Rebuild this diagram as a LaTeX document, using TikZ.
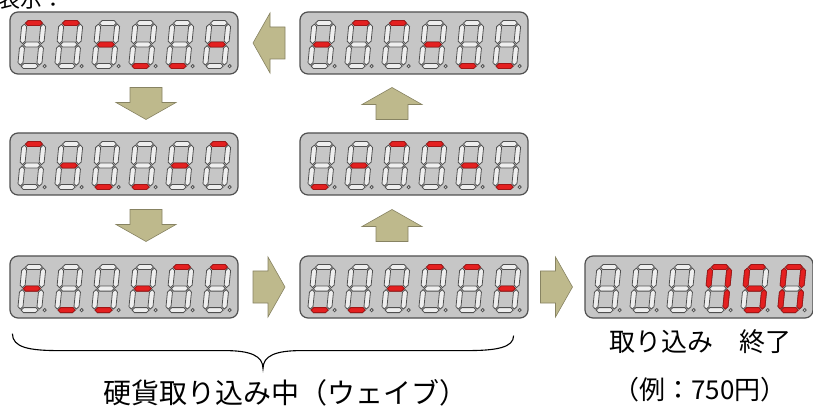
\documentclass[tikz,border=0pt]{standalone}
\usepackage{fontspec}
\usepackage{tikz}
\usetikzlibrary{
    calc,
    positioning
}
\newfontfamily\jpfont{Noto Sans CJK JP}
\definecolor{panelgray}{RGB}{198,198,198}
\definecolor{panelline}{RGB}{80,80,80}
\definecolor{segoffgray}{RGB}{238,238,238}
\definecolor{segred}{RGB}{228,32,32}
\definecolor{arrowkhaki}{RGB}{190,185,140}
\definecolor{arrowedge}{RGB}{135,131,98}

\newcommand\hseg[4]{\draw[#1] ({#2+1},#4) -- ({#2+3.5},{#4+2.5}) -- ({#3-3.5},{#4+2.5}) -- ({#3-1},#4) -- ({#3-3.5},{#4-2.5}) -- ({#2+3.5},{#4-2.5}) -- cycle;}
\newcommand\vseg[4]{\draw[#1] (#2,{#3+1}) -- ({#2+2.5},{#3+3.5}) -- ({#2+2.5},{#4-3.5}) -- (#2,{#4-1}) -- ({#2-2.5},{#4-3.5}) -- ({#2-2.5},{#3+3.5}) -- cycle;}
\newcommand\sega[1]{\hseg{#1}{2.5}{21.5}{45.5}}
\newcommand\segb[1]{\vseg{#1}{21.5}{24}{45.5}}
\newcommand\segc[1]{\vseg{#1}{21.5}{2.5}{24}}
\newcommand\segd[1]{\hseg{#1}{2.5}{21.5}{2.5}}
\newcommand\sege[1]{\vseg{#1}{2.5}{2.5}{24}}
\newcommand\segf[1]{\vseg{#1}{2.5}{24}{45.5}}
\newcommand\segg[1]{\hseg{#1}{2.5}{21.5}{24}}
\newcommand\segx[1]{}
\newcommand\digitrow[2]{%
    \foreach \litsegs [count=\k from 0] in {#2} {
        \begin{scope}[shift={($(#1.south west)+(8+37*\k,6)$)}, xslant=0.1]
            \foreach \s in {a,b,c,d,e,f,g} {\csname seg\s\endcsname{segoff}}
            \foreach \s in \litsegs {\csname seg\s\endcsname{segon}}
            \filldraw[segoff] (27,2.5) circle (1.6);
        \end{scope}
    }
}

\begin{document}
\begin{tikzpicture}[x=1pt, y=1pt,
    panel/.style={draw=panelline, fill=panelgray, line width=1.2pt, rounded corners=8pt,
        minimum width=228pt, minimum height=62pt, inner sep=0pt},
    segoff/.style={draw=panelline, fill=segoffgray, line width=0.8pt},
    segon/.style={draw=segred!70!black, fill=segred, line width=0.8pt},
    blockarrow/.pic={\draw[draw=arrowedge, fill=arrowkhaki, line width=0.6pt]
        (-16,-16) -- (-1,-16) -- (-1,-30) -- (16,0) -- (-1,30) -- (-1,16) -- (-16,16) -- cycle;},
    jptext/.style={font=\jpfont\fontsize{26}{30}\selectfont, inner sep=0pt}]
    \useasboundingbox (0,0) rectangle (813,407);

    \node[panel] (r1l) at (124, 364) {};
    \node[panel] (r1r) at (414, 364) {};
    \node[panel] (r2l) at (124, 243) {};
    \node[panel] (r2r) at (414, 243) {};
    \node[panel] (r3l) at (124, 120) {};
    \node[panel] (r3m) at (414, 120) {};
    \node[panel] (r3r) at (699, 120) {};

    \digitrow{r1l}{a,a,g,d,d,g}
    \digitrow{r1r}{g,a,a,g,d,d}
    \digitrow{r2l}{a,g,d,d,g,a}
    \digitrow{r2r}{d,g,a,a,g,d}
    \digitrow{r3l}{g,d,d,g,a,a}
    \digitrow{r3m}{d,d,g,a,a,g}
    \digitrow{r3r}{x,x,x,{a,b,c,f},{a,c,d,f,g},{a,b,c,d,e,f}}

    \pic[rotate=180] at ($(r1l.east)!0.5!(r1r.west)$) {blockarrow};
    \pic[rotate=-90] at ($(r1l.south)!0.5!(r2l.north)+(22,0)$) {blockarrow};
    \pic[rotate=-90] at ($(r2l.south)!0.5!(r3l.north)+(22,0)$) {blockarrow};
    \pic[rotate=90] at ($(r3m.north)!0.5!(r2r.south)+(-22,0)$) {blockarrow};
    \pic[rotate=90] at ($(r2r.north)!0.5!(r1r.south)+(-22,0)$) {blockarrow};
    \pic at ($(r3l.east)!0.5!(r3m.west)$) {blockarrow};
    \pic at ($(r3m.east)!0.5!(r3r.west)$) {blockarrow};

    \coordinate (bl) at ($(r3l.south west)+(3,-15)$);
    \coordinate (br) at ($(r3m.south east)+(-15,-17)$);
    \coordinate (bt) at ($(bl)!0.5!(br)+(0,-34)$);
    \draw[line width=1.1pt]
    (bl) .. controls ($(bl)+(0,-14)$) and ($(bl)+(17,-17)$) .. ($(bl)+(47,-17)$)
    -- ($(bt)+(-38,18)$) .. controls ($(bt)+(-13,18)$) and ($(bt)+(0,13)$) .. (bt)
    .. controls ($(bt)+(0,13)$) and ($(bt)+(13,18)$) .. ($(bt)+(38,18)$)
    -- ($(br)+(-47,-15)$) .. controls ($(br)+(-17,-15)$) and ($(br)+(0,-12)$) .. (br);

    \node[jptext, font=\jpfont\fontsize{22}{26}\selectfont, anchor=west] (title) at (-2, 408) {表示：};
    \node[jptext, font=\jpfont\fontsize{28}{32}\selectfont] (wave) at (285, 14) {硬貨取り込み中（ウェイブ）};
    \node[jptext] (done) at (700, 65) {取り込み　終了};
    \node[jptext] (amount) at (700, 17) {（例：750円）};
\end{tikzpicture}
\end{document}
